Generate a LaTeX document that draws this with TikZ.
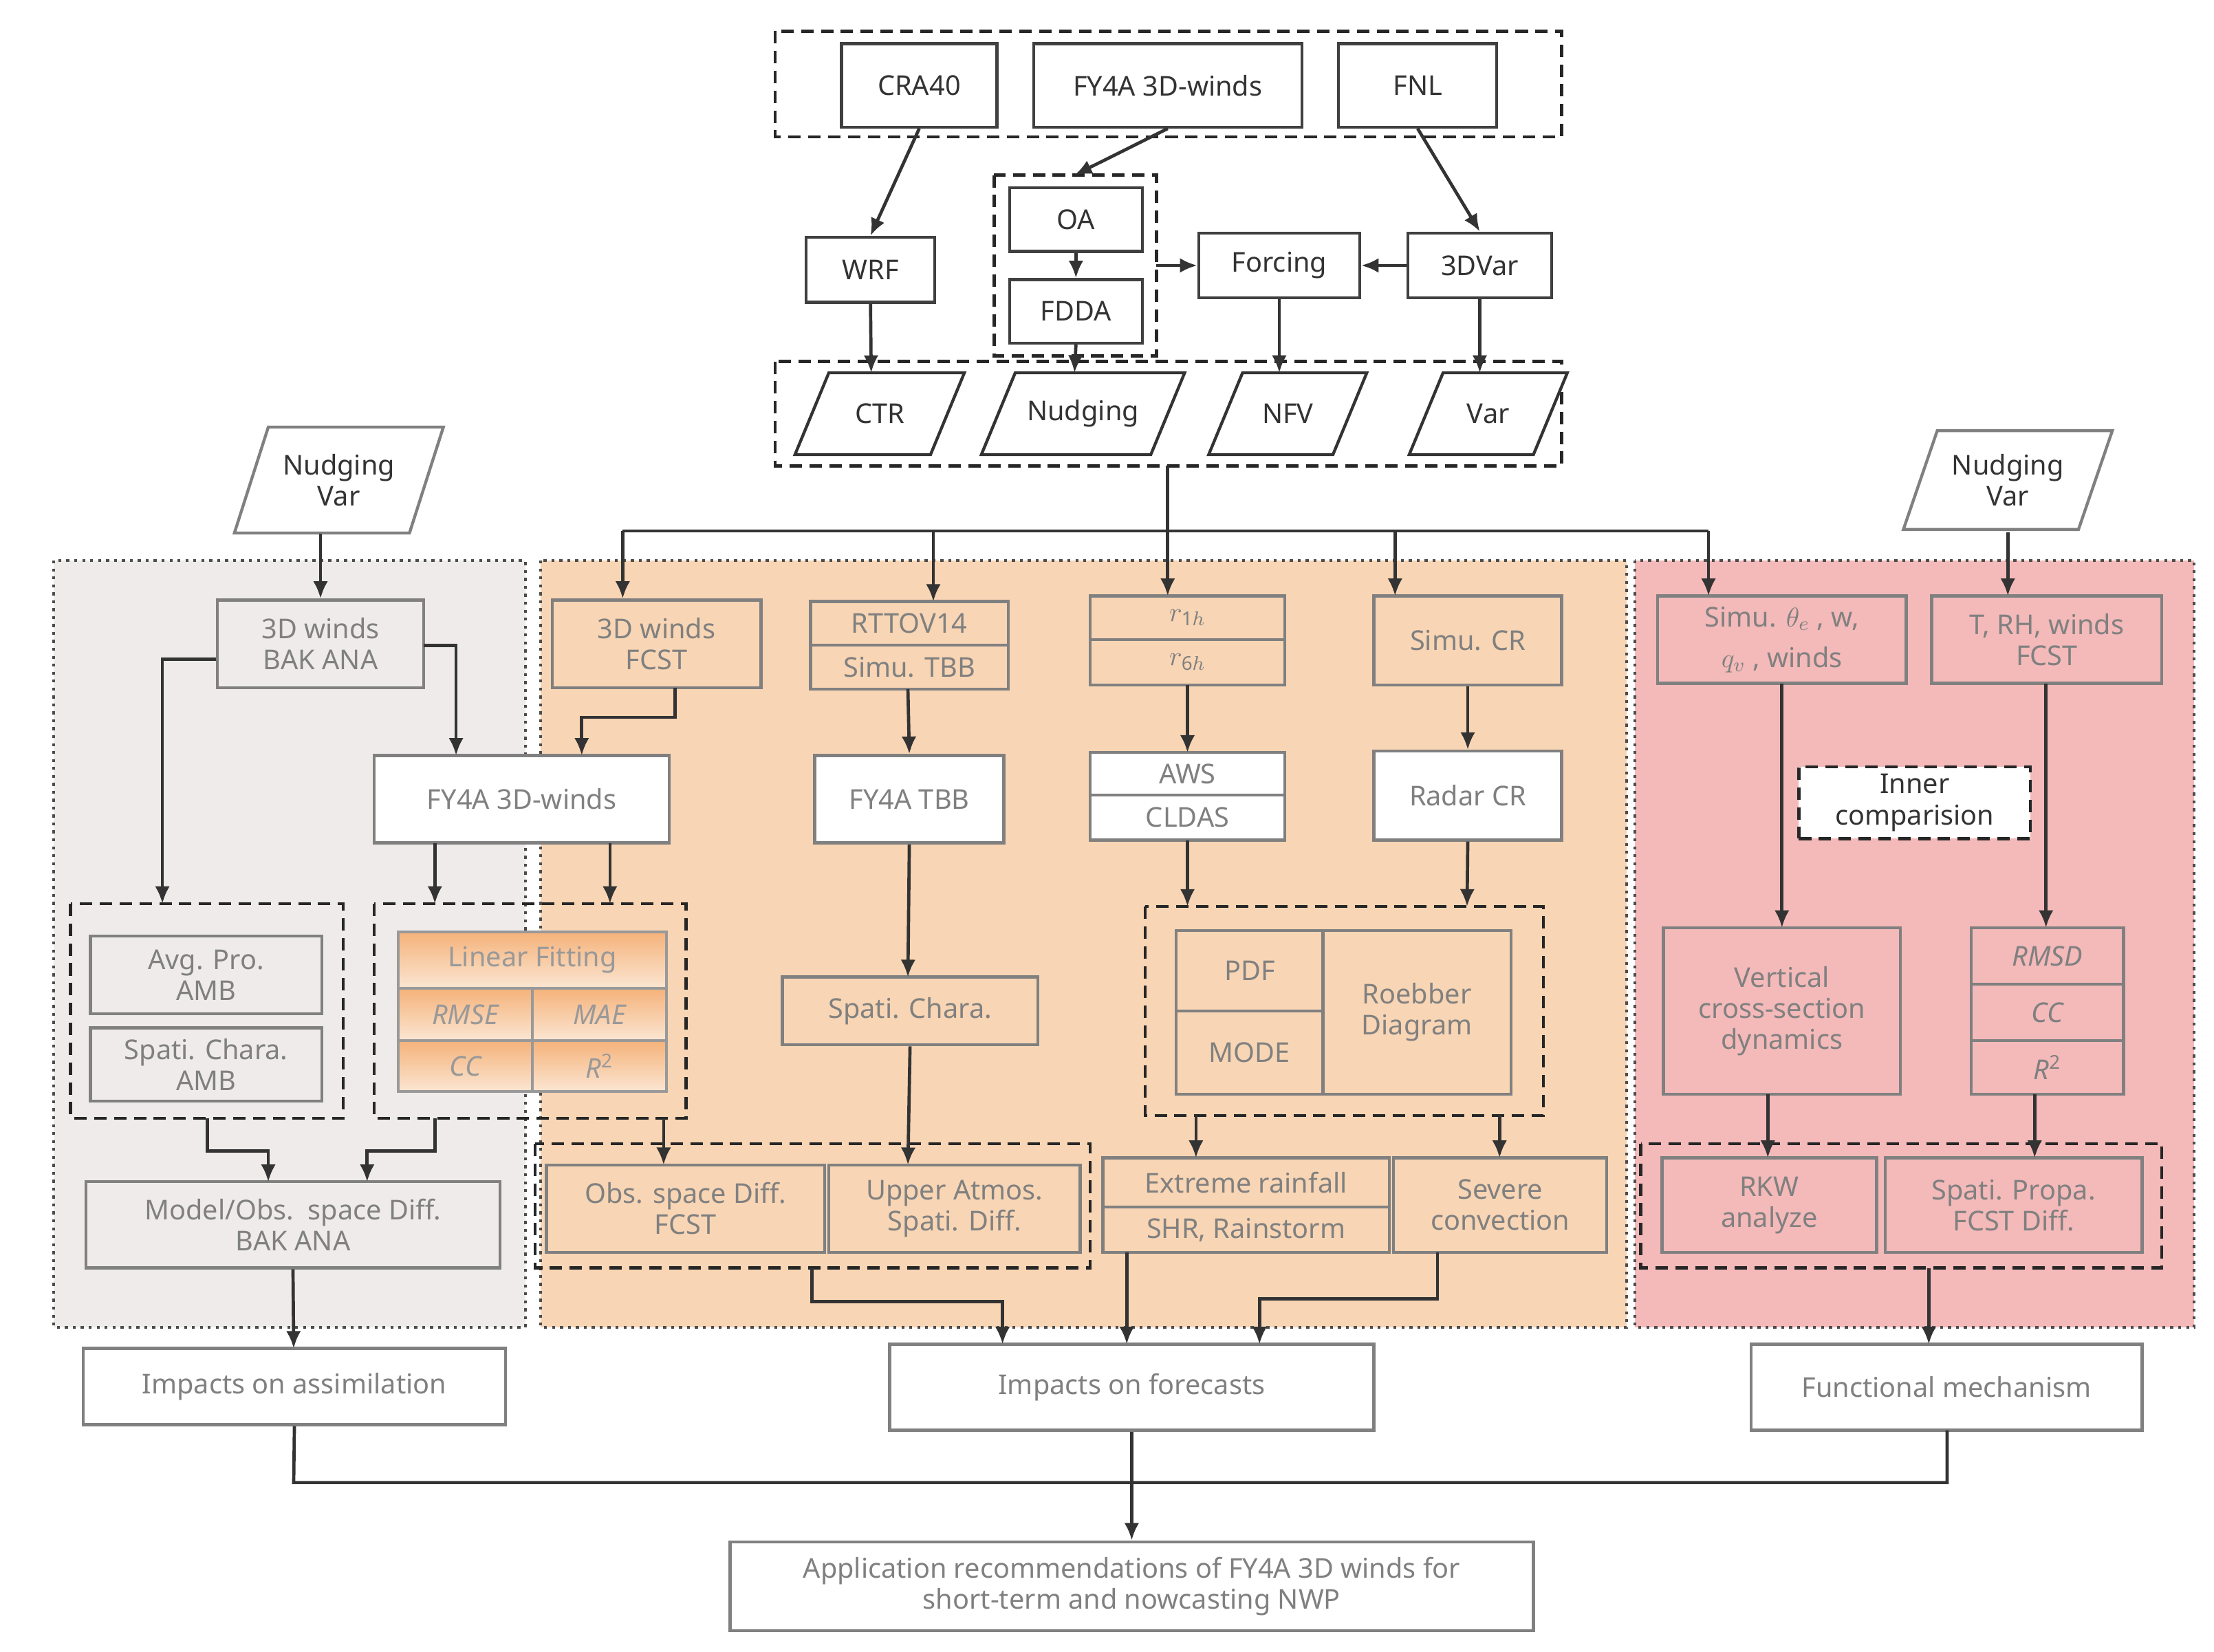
\documentclass[tikz,border=0pt]{standalone}
\usepackage{fontspec}
\setmainfont{Noto Sans}
\usetikzlibrary{arrows.meta,calc}
\definecolor{tx}{HTML}{333333}
\definecolor{gpan}{HTML}{EEEBEA}
\definecolor{opan}{HTML}{F8D5B4}
\definecolor{ppan}{HTML}{F4B9B9}
\definecolor{obox}{HTML}{F5B27A}
\tikzset{
 box/.style={draw=#1,line width=1.2pt,inner sep=0pt,align=center,text=tx,font=\fontsize{11}{12.5}\selectfont},
 box/.default={black!75},
 dbox/.style={draw=black!85,line width=1.3pt,dash pattern=on 5pt off 3pt},
 arr/.style={-{Latex[length=7pt,width=6pt]},line width=1.3pt,draw=black!80},
 ln/.style={line width=1.3pt,draw=black!80},
}
\newcommand\bx[7][]{\node[box,#1,minimum width={(#5-#3)*0.02cm},minimum height={(#6-#4)*0.02cm}] (#2) at ({(#3+#5)/2},{(#4+#6)/2}) {#7};}
\newcommand\para[7][black!80]{%
 \draw[draw=#1,line width=1.2pt] ({#3-#5/2+#6},{#4-#5*0+0}) ;%
 \node[inner sep=0pt,align=center,text=tx,font=\fontsize{11}{12.5}\selectfont] (#2) at (#3,#4) {#7};
}
\newcommand\pgram[7][black!80]{% color,name,cx,cy,w,h,text
 \draw[draw=#1,fill=white,line width=1.2pt] ({#3-#5/2},{#4+#6/2}) -- ({#3+#5/2-12},{#4+#6/2}) -- ({#3+#5/2+12},{#4-#6/2}) -- ({#3-#5/2+24},{#4-#6/2}) -- cycle;
 \node[inner sep=0pt,align=center,text=tx,font=\fontsize{11}{12.5}\selectfont,minimum width={#5*0.02cm},minimum height={#6*0.02cm}] (#2) at ({#3+6},#4) {#7};
}
\begin{document}
\begin{tikzpicture}[x=0.02cm,y=-0.02cm]
\useasboundingbox (0,0) rectangle (1568,1170);
\fill[white] (0,0) rectangle (1568,1170);
% panels
\draw[fill=gpan,line width=1.2pt,dotted,draw=black!70] (38,397) rectangle (372,940);
\draw[fill=opan,line width=1.2pt,dotted,draw=black!70] (383,397) rectangle (1152,940);
\draw[fill=ppan,line width=1.2pt,dotted,draw=black!70] (1158,397) rectangle (1554,940);
% top
\draw[dbox] (549,22) rectangle (1106,97);
\bx{cra}{596}{31}{706}{90}{CRA40}
\bx{fy}{732}{31}{922}{90}{FY4A 3D-winds}
\bx{fnl}{948}{31}{1060}{90}{FNL}
\draw[dbox] (704,124) rectangle (819,252);
\coordinate (oag) at (761,124); \coordinate (oar) at (819,188);
\bx{oa}{715}{133}{809}{178}{OA}
\bx{fdda}{715}{198}{809}{243}{FDDA}
\bx{wrf}{571}{168}{662}{214}{WRF}
\bx{forc}{849}{165}{963}{211}{Forcing}
\bx{var3}{997}{165}{1099}{211}{3DVar}
\draw[dbox] (549,256) rectangle (1106,330);
\pgram{ctr}{617}{293}{108}{58}{CTR}
\pgram{nud}{761}{293}{132}{58}{Nudging}
\pgram{nfv}{906}{293}{100}{58}{NFV}
\pgram{var}{1048}{293}{100}{58}{Var}
\draw[arr] (cra.south) -- (wrf.north);
\draw[arr] (fy.south) -- (oag);
\draw[arr] (oa.south) -- (fdda.north);
\draw[arr] (fnl.south) -- (var3.north);
\draw[arr] (wrf.south) -- (617,264);
\draw[arr] (fdda.south) -- (761,264);
\draw[arr] (forc.south) -- (906,264);
\draw[arr] (var3.south) -- (1048,264);
\draw[arr] (oar) -- (forc.west);
\draw[arr] (var3.west) -- (forc.east);
\draw[ln] (827,330) -- (827,376);
\draw[ln] (441,376) -- (1210,376);
% left panel
\pgram[black!50]{nvl}{234}{340}{136}{75}{Nudging\\Var}
\bx[black!50,fill=gpan]{bak}{154}{425}{300}{487}{3D winds\\BAK ANA}
\draw[arr] (227,378) -- (bak.north);
\bx[black!50,fill=white]{fyw}{265}{535}{474}{597}{FY4A 3D-winds}
\draw[dbox] (50,640) rectangle (243,792);
\bx[black!50,fill=gpan]{avg}{64}{663}{228}{718}{Avg. Pro.\\AMB}
\bx[black!50,fill=gpan]{spc}{64}{728}{228}{780}{Spati. Chara.\\AMB}
\draw[dbox] (265,640) rectangle (486,792);
\tikzset{ob/.style={black!40,top color=obox,bottom color=opan!60}}
\bx[ob]{lin}{282}{660}{472}{700}{Linear Fitting}
\bx[ob]{rmse}{282}{700}{377}{737}{\itshape RMSE}
\bx[ob]{mae}{377}{700}{472}{737}{\itshape MAE}
\bx[ob]{cc1}{282}{737}{377}{773}{\itshape CC}
\bx[ob]{r21}{377}{737}{472}{773}{\itshape R$^{\mathbf 2}$}
\bx[black!50,fill=gpan]{mod}{61}{837}{354}{898}{Model/Obs.\ \ space Diff.\\BAK ANA}
\bx[black!50,fill=white]{ias}{59}{955}{358}{1009}{Impacts on assimilation}
\draw[arr] (bak.west|-0,467) ++(0,0) -- (115,467) -- (115,640);
\draw[arr] (300,457) -- (323,457) -- (323,535);
\draw[arr] (308,597) -- (308,640);
\draw[arr] (432,597) -- (432,640);
\draw[arr] (147,792) -- (147,815) -- (190,815) -- (190,837);
\draw[arr] (308,792) -- (308,815) -- (260,815) -- (260,837);
\draw[arr] (mod.south) -- (208,955);
% middle panel
\bx[black!50,fill=opan]{fcst}{391}{425}{539}{487}{3D winds\\FCST}
\draw[arr] (441,376) -- (fcst.north-|441,0);
\draw[arr] (478,487) -- (478,508) -- (412,508) -- (412,535);
\bx[black!50,fill=opan]{rtt}{574}{426}{714}{457}{RTTOV14}
\bx[black!50,fill=opan]{stbb}{574}{457}{714}{488}{Simu. TBB}
\draw[arr] (661,376) -- (661,426);
\bx[black!50,fill=white]{ftbb}{577}{535}{711}{597}{FY4A TBB}
\draw[arr] (643,488) -- (ftbb.north);
\bx[black!50,fill=opan]{spch}{554}{692}{735}{740}{Spati. Chara.}
\draw[arr] (ftbb.south) -- (643,692);
\bx[black!50,fill=opan]{r1}{772}{422}{910}{453}{$r_{\mathbf 1h}$}
\bx[black!50,fill=opan]{r6}{772}{453}{910}{485}{$r_{\mathbf 6h}$}
\draw[arr] (827,376) -- (827,422);
\bx[black!50,fill=white]{aws}{772}{533}{910}{563}{AWS}
\bx[black!50,fill=white]{cld}{772}{563}{910}{595}{CLDAS}
\draw[arr] (841,485) -- (841,533);
\bx[black!50,fill=opan]{scr}{973}{422}{1106}{485}{Simu. CR}
\draw[arr] (988,376) -- (988,422);
\bx[black!50,fill=white]{rcr}{973}{532}{1106}{595}{Radar CR}
\draw[arr] (scr.south) -- (rcr.north);
\draw[dbox] (811,642) rectangle (1093,790);
\bx[black!50,fill=opan]{pdf}{833}{659}{937}{716}{PDF}
\bx[black!50,fill=opan]{mode}{833}{716}{937}{775}{MODE}
\bx[black!50,fill=opan]{roe}{937}{659}{1070}{775}{Roebber\\Diagram}
\draw[arr] (841,595) -- (841,642);
\draw[arr] (rcr.south) -- (1039,642);
\draw[dbox] (379,810) rectangle (772,898);
\bx[black!50,fill=opan]{obs}{387}{825}{584}{887}{Obs. space Diff.\\FCST}
\bx[black!50,fill=opan]{upp}{587}{825}{765}{887}{Upper Atmos.\\Spati. Diff.}
\draw[arr] (470,792) -- (470,825);
\draw[arr] (spch.south) -- (643,825);
\bx[black!50,fill=opan]{ext}{781}{820}{984}{855}{Extreme rainfall}
\bx[black!50,fill=opan]{shr}{781}{855}{984}{887}{SHR, Rainstorm}
\bx[black!50,fill=opan]{sev}{987}{820}{1138}{887}{Severe\\convection}
\draw[arr] (847,790) -- (847,820);
\draw[arr] (1062,790) -- (1062,820);
\bx[black!50,fill=white]{ifc}{630}{952}{973}{1013}{Impacts on forecasts}
\draw[arr] (575,898) -- (575,922) -- (710,922) -- (710,952);
\draw[arr] (798,887) -- (798,952);
\draw[arr] (1018,887) -- (1018,920) -- (892,920) -- (892,952);
% right panel
\pgram[black!50]{nvr}{1416}{340}{136}{70}{Nudging\\Var}
\bx[black!50,fill=ppan]{sth}{1174}{422}{1350}{484}{Simu. $\theta_e$ , w,\\[4pt]$q_v$ , winds}
\draw[arr] (1210,376) -- (1210,422);
\bx[black!50,fill=ppan]{trh}{1368}{422}{1531}{484}{T, RH, winds\\FCST}
\draw[arr] (1422,377) -- (1422,422);
\node[box,fill=white,dash pattern=on 5pt off 3pt,draw=black!85,minimum width={164*0.02cm},minimum height={51*0.02cm}] (inn) at (1356,568.5) {Inner\\comparision};
\bx[black!50,fill=ppan]{vcs}{1178}{657}{1346}{775}{Vertical\\cross-section\\dynamics}
\draw[arr] (1262,484) -- (1262,657);
\bx[black!50,fill=ppan]{rmsd}{1396}{657}{1504}{697}{\itshape RMSD}
\bx[black!50,fill=ppan]{cc2}{1396}{697}{1504}{737}{\itshape CC}
\bx[black!50,fill=ppan]{r22}{1396}{737}{1504}{775}{\itshape R$^{\mathbf 2}$}
\draw[arr] (1449,484) -- (1449,657);
\draw[dbox] (1162,810) rectangle (1531,898);
\bx[black!50,fill=ppan]{rkw}{1177}{820}{1329}{887}{RKW\\analyze}
\bx[black!50,fill=ppan]{spp}{1335}{820}{1517}{887}{Spati. Propa.\\FCST Diff.}
\draw[arr] (1252,775) -- (1252,820);
\draw[arr] (1441,775) -- (1441,820);
\bx[black!50,fill=white]{fm}{1240}{952}{1517}{1013}{Functional mechanism}
\draw[arr] (1366,898) -- (1366,952);
% bottom
\bx[black!50,fill=white]{app}{517}{1092}{1086}{1155}{Application recommendations of FY4A 3D winds for\\short-term and nowcasting NWP}
\draw[ln] (ias.south) -- (208,1050) -- (1379,1050) -- (1379,1013);
\draw[arr] (ifc.south) -- (app.north-|ifc.south);
\end{tikzpicture}
\end{document}
